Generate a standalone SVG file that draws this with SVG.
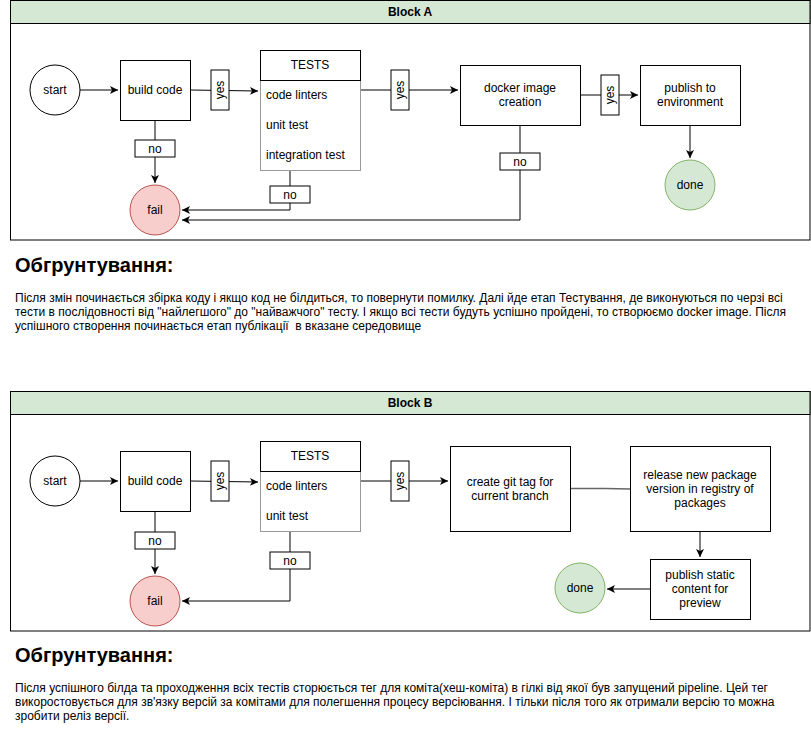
<svg xmlns="http://www.w3.org/2000/svg" width="811" height="741" viewBox="0 0 811 741">
<style>
text{font-family:"Liberation Sans",Arial,sans-serif;font-size:12px;fill:#000}
.c{text-anchor:middle}
.box{fill:#fff;stroke:#000;stroke-width:1}
.lbl{fill:#fff;stroke:#000;stroke-width:1}
.edge{fill:none;stroke:#000;stroke-width:1}
.gedge{fill:none;stroke:#666;stroke-width:1.5}
.hdr{fill:#d5e8d4;stroke:#000;stroke-width:1}
.lane{fill:#fff;stroke:#000;stroke-width:1}
.fail{fill:#f8cecc;stroke:#b85450;stroke-width:1}
.done{fill:#d5e8d4;stroke:#82b366;stroke-width:1}
.list{fill:#fff;stroke:#999;stroke-width:1}
.h{font-size:20px;font-weight:bold}
.b{font-weight:bold}
</style>
<defs>
<marker id="arr" markerUnits="userSpaceOnUse" markerWidth="10" markerHeight="10" refX="8" refY="5" orient="auto">
<path d="M0,1 L8,5 L0,9 L2,5 Z" fill="#000"/>
</marker>
</defs>
<rect width="811" height="741" fill="#fff"/>

<!-- Block A -->
<g id="blockA">
<rect class="lane" x="10.5" y="0.5" width="799.5" height="239.5"/>
<rect class="hdr" x="10.5" y="0.5" width="799.5" height="23"/>
<text class="c b" x="410" y="16">Block A</text>
</g>

<g id="connectorsA">
<path class="edge" d="M80,90 H118" marker-end="url(#arr)"/>
<path class="edge" d="M190,90 L258,91" marker-end="url(#arr)"/>
<path class="edge" d="M360,90 H458" marker-end="url(#arr)"/>
<path class="edge" d="M580,95 H638" marker-end="url(#arr)"/>
<path class="edge" d="M690,125 V158" marker-end="url(#arr)"/>
<path class="edge" d="M155,120 V183" marker-end="url(#arr)"/>
<path class="edge" d="M290,170 V210 H182" marker-end="url(#arr)"/>
<path class="edge" d="M520,125 V220 H182" marker-end="url(#arr)"/>
<rect class="lbl" x="211" y="70" width="18" height="40"/>
<text class="c" transform="translate(224,90) rotate(-90)">yes</text>
<rect class="lbl" x="391" y="70" width="18" height="40"/>
<text class="c" transform="translate(404,90) rotate(-90)">yes</text>
<rect class="lbl" x="601" y="75" width="18" height="40"/>
<text class="c" transform="translate(614,95) rotate(-90)">yes</text>
<rect class="lbl" x="135" y="140" width="40" height="17"/>
<text class="c" x="155" y="153">no</text>
<rect class="lbl" x="270" y="186" width="40" height="17"/>
<text class="c" x="290" y="199">no</text>
<rect class="lbl" x="500" y="153" width="40" height="17"/>
<text class="c" x="520" y="166">no</text>
</g>

<g id="startA"><circle class="box" cx="55" cy="90" r="25"/><text class="c" x="55" y="94">start</text></g>
<g id="buildA"><rect class="box" x="120.5" y="60.5" width="70" height="60"/><text class="c" x="155" y="94">build code</text></g>
<g id="testsA">
<rect class="list" x="260.5" y="80.5" width="100" height="90"/>
<rect class="box" x="260.5" y="50.5" width="100" height="30"/>
<text class="c" x="310" y="69">TESTS</text>
<text x="266" y="99">code linters</text>
<text x="266" y="129">unit test</text>
<text x="266" y="159">integration test</text>
</g>
<g id="dockerA"><rect class="box" x="460.5" y="65.5" width="120" height="60"/><text class="c" x="520" y="92">docker image</text><text class="c" x="520" y="106">creation</text></g>
<g id="publishA"><rect class="box" x="640.5" y="65.5" width="100" height="60"/><text class="c" x="690" y="92">publish to</text><text class="c" x="690" y="106">environment</text></g>
<g id="failA"><circle class="fail" cx="155" cy="210" r="25"/><text class="c" x="155" y="214">fail</text></g>
<g id="doneA"><circle class="done" cx="690" cy="185" r="25"/><text class="c" x="690" y="189">done</text></g>

<g id="textA">
<text class="h" x="15" y="272">Обгрунтування:</text>
<text x="15" y="302">Після змін починається збірка коду і якщо код не білдиться, то повернути помилку. Далі йде етап Тестування, де виконуються по черзі всі</text>
<text x="15" y="316">тести в послідовності від "найлегшого" до "найважчого" тесту. І якщо всі тести будуть успішно пройдені, то створюємо docker image. Після</text>
<text x="15" y="330" xml:space="preserve">успішного створення починається етап публікації  в вказане середовище</text>
</g>

<!-- Block B -->
<g id="blockB">
<rect class="lane" x="10.5" y="391.5" width="799.5" height="239.5"/>
<rect class="hdr" x="10.5" y="391.5" width="799.5" height="23"/>
<text class="c b" x="410" y="407">Block B</text>
</g>

<g id="connectorsB">
<path class="edge" d="M80,481 H118" marker-end="url(#arr)"/>
<path class="edge" d="M190,481 L258,482" marker-end="url(#arr)"/>
<path class="edge" d="M360,481 H448" marker-end="url(#arr)"/>
<path class="gedge" d="M570,488.5 H605 L630,489"/>
<path class="edge" d="M700,531 V557" marker-end="url(#arr)"/>
<path class="edge" d="M650,589 H607" marker-end="url(#arr)"/>
<path class="edge" d="M155,511 V574" marker-end="url(#arr)"/>
<path class="edge" d="M290,531 V601 H182" marker-end="url(#arr)"/>
<rect class="lbl" x="211" y="461" width="18" height="40"/>
<text class="c" transform="translate(224,481) rotate(-90)">yes</text>
<rect class="lbl" x="391" y="461" width="18" height="40"/>
<text class="c" transform="translate(404,481) rotate(-90)">yes</text>
<rect class="lbl" x="135" y="532" width="40" height="17"/>
<text class="c" x="155" y="545">no</text>
<rect class="lbl" x="270" y="552" width="40" height="17"/>
<text class="c" x="290" y="565">no</text>
</g>

<g id="startB"><circle class="box" cx="55" cy="481" r="25"/><text class="c" x="55" y="485">start</text></g>
<g id="buildB"><rect class="box" x="120.5" y="451.5" width="70" height="60"/><text class="c" x="155" y="485">build code</text></g>
<g id="testsB">
<rect class="list" x="260.5" y="471.5" width="100" height="60"/>
<rect class="box" x="260.5" y="441.5" width="100" height="30"/>
<text class="c" x="310" y="460">TESTS</text>
<text x="266" y="490">code linters</text>
<text x="266" y="520">unit test</text>
</g>
<g id="gittagB"><rect class="box" x="450.5" y="446.5" width="120" height="85"/><text class="c" x="510" y="486">create git tag for</text><text class="c" x="510" y="500">current branch</text></g>
<g id="releaseB"><rect class="box" x="630.5" y="446.5" width="140" height="85"/><text class="c" x="700" y="479">release new package</text><text class="c" x="700" y="493">version in registry of</text><text class="c" x="700" y="507">packages</text></g>
<g id="publishB"><rect class="box" x="650.5" y="559.5" width="100" height="60"/><text class="c" x="700" y="579">publish static</text><text class="c" x="700" y="593">content for</text><text class="c" x="700" y="607">preview</text></g>
<g id="failB"><circle class="fail" cx="155" cy="601" r="25"/><text class="c" x="155" y="605">fail</text></g>
<g id="doneB"><circle class="done" cx="580" cy="588" r="25"/><text class="c" x="580" y="592">done</text></g>

<g id="textB">
<text class="h" x="15" y="662">Обгрунтування:</text>
<text x="15" y="692">Після успішного білда та проходження всіх тестів сторюється тег для коміта(хеш-коміта) в гілкі від якої був запущений pipeline. Цей тег</text>
<text x="15" y="706">викоростовується для зв'язку версій за комітами для полегшення процесу версіювання. І тільки після того як отримали версію то можна</text>
<text x="15" y="720">зробити реліз версії.</text>
</g>
</svg>
